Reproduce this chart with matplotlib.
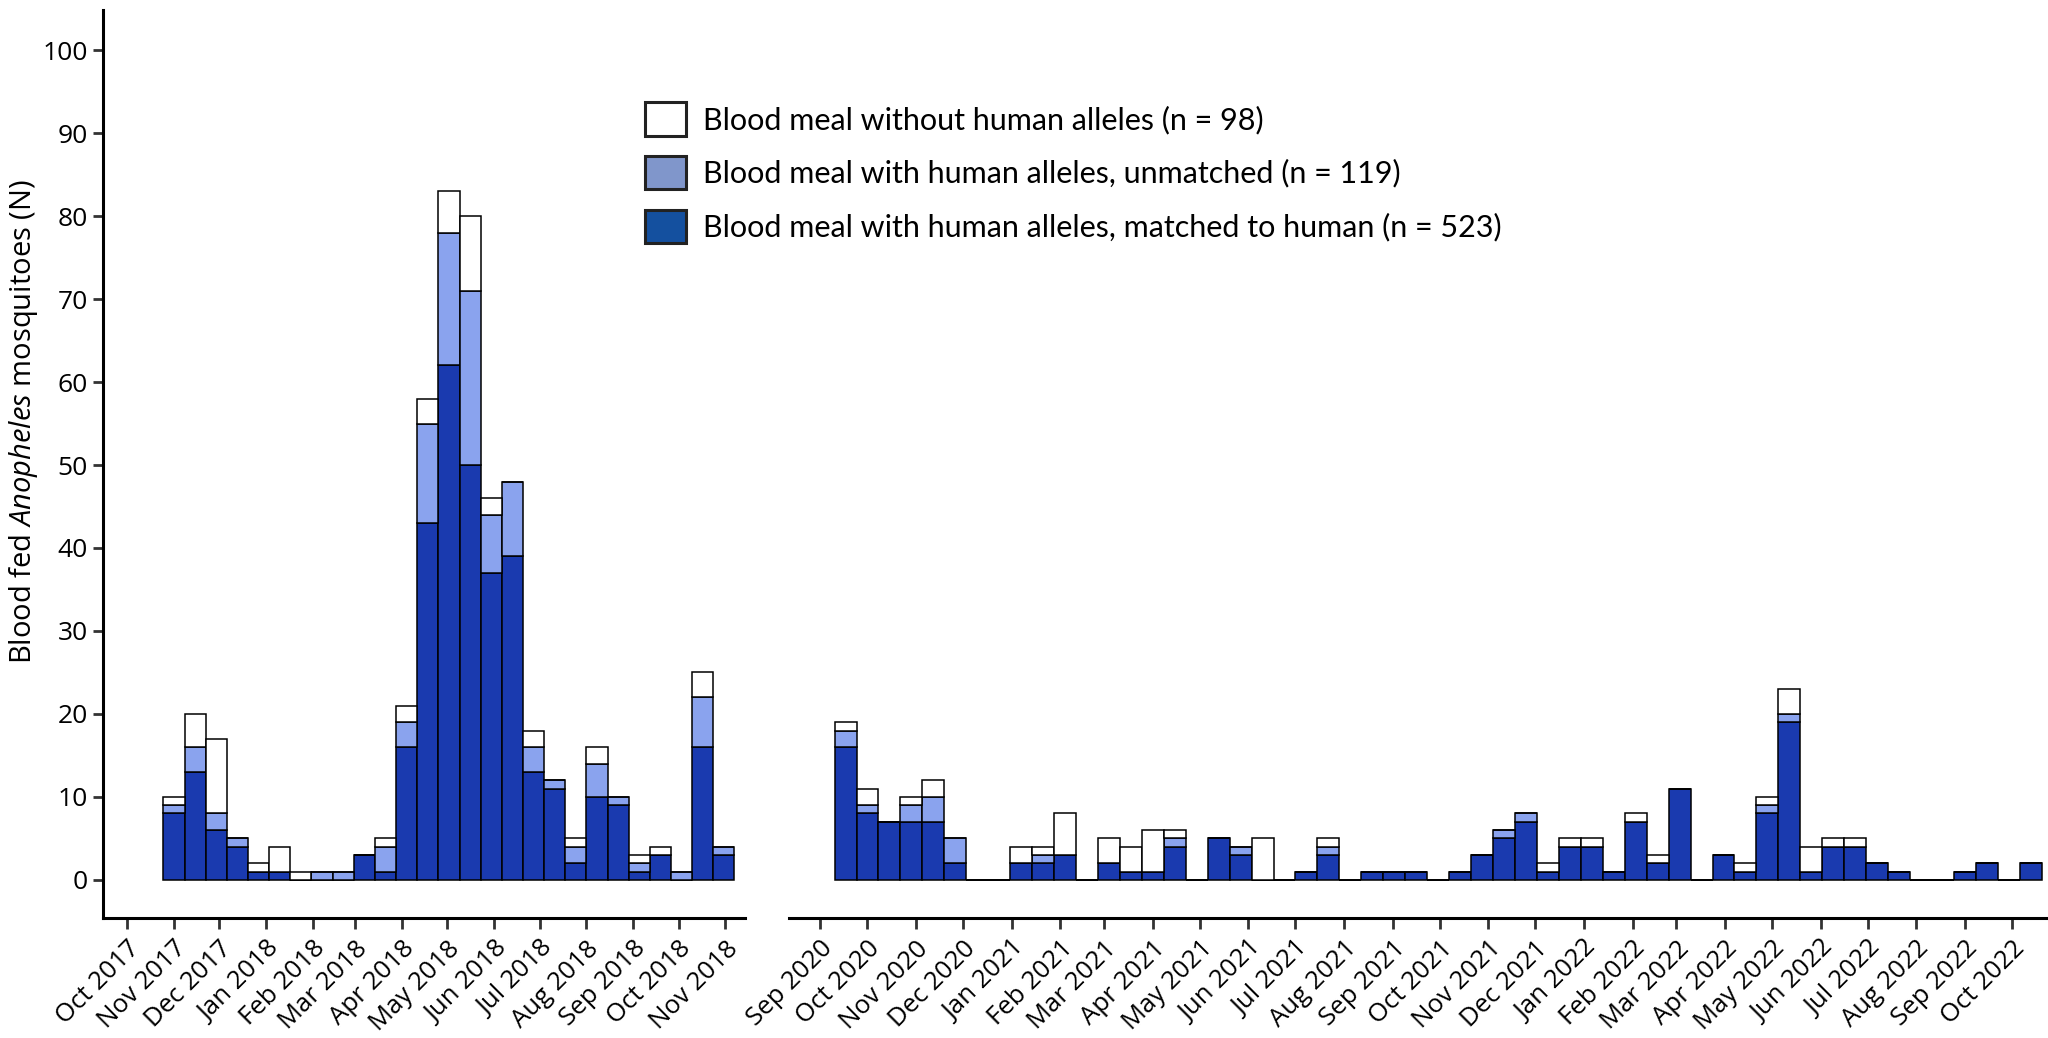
import matplotlib
matplotlib.use('Agg')
import matplotlib.pyplot as plt
import matplotlib.dates as mdates
from matplotlib.patches import Patch
import pandas as pd

# 14-day bins, first bin start of each survey period
start_2017 = '2017-10-25'
start_2020 = '2020-09-10'

# 2017-2018 survey: matched / unmatched / without human alleles
matched_a = [8, 13, 6, 4, 1, 1, 0, 0, 0, 3, 1, 16, 43, 62, 50, 37, 39, 13, 11, 2, 10, 9, 1, 3, 0, 16, 3]
unmatched_a = [1, 3, 2, 1, 0, 0, 0, 1, 1, 0, 3, 3, 12, 16, 21, 7, 9, 3, 1, 2, 4, 1, 1, 0, 1, 6, 1]
without_a = [1, 4, 9, 0, 1, 3, 1, 0, 0, 0, 1, 2, 3, 5, 9, 2, 0, 2, 0, 1, 2, 0, 1, 1, 0, 3, 0]

# 2020-2022 survey
matched_b = [16, 8, 7, 7, 7, 2, 0, 0, 2, 2, 3, 0, 2, 1, 1, 4, 0, 5, 3, 0, 0, 1, 3, 0, 1, 1, 1, 0,
             1, 3, 5, 7, 1, 4, 4, 1, 7, 2, 11, 0, 3, 1, 8, 19, 1, 4, 4, 2, 1, 0, 0, 1, 2, 0, 2]
unmatched_b = [2, 1, 0, 2, 3, 3, 0, 0, 0, 1, 0, 0, 0, 0, 0, 1, 0, 0, 1, 0, 0, 0, 1, 0, 0, 0, 0, 0,
               0, 0, 1, 1, 0, 0, 0, 0, 0, 0, 0, 0, 0, 0, 1, 1, 0, 0, 0, 0, 0, 0, 0, 0, 0, 0, 0]
without_b = [1, 2, 0, 1, 2, 0, 0, 0, 2, 1, 5, 0, 3, 3, 5, 1, 0, 0, 0, 5, 0, 0, 1, 0, 0, 0, 0, 0,
             0, 0, 0, 0, 1, 1, 1, 0, 1, 1, 0, 0, 0, 1, 1, 3, 3, 1, 1, 0, 0, 0, 0, 0, 0, 0, 0]

labels = ['Blood meal without human alleles (n = 98)',
          'Blood meal with human alleles, unmatched (n = 119)',
          'Blood meal with human alleles, matched to human (n = 523)']

c_dark = '#1a3aaf'
c_light = '#8aa3ee'
c_leg_dark = '#14509f'
c_leg_light = '#8096cb'

plt.rcParams['font.family'] = ['Open Sans', 'DejaVu Sans']
plt.rcParams['mathtext.fontset'] = 'custom'
plt.rcParams['mathtext.rm'] = 'Open Sans'
plt.rcParams['mathtext.it'] = 'Open Sans:italic'

fig = plt.figure(figsize=(20.48, 10.38), dpi=100)
ax1 = fig.add_axes([0.0503, 0.1156, 0.3135, 0.8744])
ax2 = fig.add_axes([0.3853, 0.1156, 0.6147, 0.8744])


def draw(ax, start, matched, unmatched, without):
    days = pd.date_range(start, periods=len(matched), freq='14D')
    x = mdates.date2num(days)
    m = pd.Series(matched)
    u = pd.Series(unmatched)
    kw = dict(width=14, align='edge', edgecolor='black', linewidth=1.1)
    ax.bar(x, m, color=c_dark, **kw)
    ax.bar(x, u, bottom=m, color=c_light, **kw)
    ax.bar(x, without, bottom=m + u, color='white', **kw)


draw(ax1, start_2017, matched_a, unmatched_a, without_a)
draw(ax2, start_2020, matched_b, unmatched_b, without_b)

ax1.set_xlim(mdates.date2num(pd.Timestamp('2017-09-15')), mdates.date2num(pd.Timestamp('2018-11-14')))
ax2.set_xlim(mdates.date2num(pd.Timestamp('2020-08-12')), mdates.date2num(pd.Timestamp('2022-10-24')))

for ax in (ax1, ax2):
    ax.set_ylim(-4.6, 104.8)
    ax.xaxis.set_major_locator(mdates.MonthLocator())
    ax.xaxis.set_major_formatter(mdates.DateFormatter('%b %Y'))
    for lab in ax.get_xticklabels():
        lab.set_rotation(45)
        lab.set_ha('right')
        lab.set_rotation_mode('anchor')
    ax.tick_params(axis='x', length=8, width=2, color='#333333', labelsize=18.5, pad=5)
    ax.spines['top'].set_visible(False)
    ax.spines['right'].set_visible(False)
    ax.spines['bottom'].set_linewidth(2.2)
    ax.spines['left'].set_linewidth(2.2)

ax1.set_yticks(range(0, 101, 10))
ax1.tick_params(axis='y', length=7, width=2, color='#333333', labelsize=19, pad=4)
ax2.spines['left'].set_visible(False)
ax2.set_yticks([])

fig.text(0.0115, 0.594, r'Blood fed $\mathit{Anopheles}$ mosquitoes (N)',
         rotation=90, ha='center', va='center', fontsize=21)

handles = [Patch(facecolor='white', edgecolor='#222222', linewidth=2.2),
           Patch(facecolor=c_leg_light, edgecolor='#222222', linewidth=2.2),
           Patch(facecolor=c_leg_dark, edgecolor='#222222', linewidth=2.2)]
fig.legend(handles, labels, loc='upper left', bbox_to_anchor=(0.315, 0.9015),
           frameon=False, prop={'family': 'Lato', 'size': 22},
           handlelength=1.34, handleheight=1.31, handletextpad=0.55,
           labelspacing=0.66, borderpad=0, borderaxespad=0)

fig.savefig('out.png', dpi=100)
